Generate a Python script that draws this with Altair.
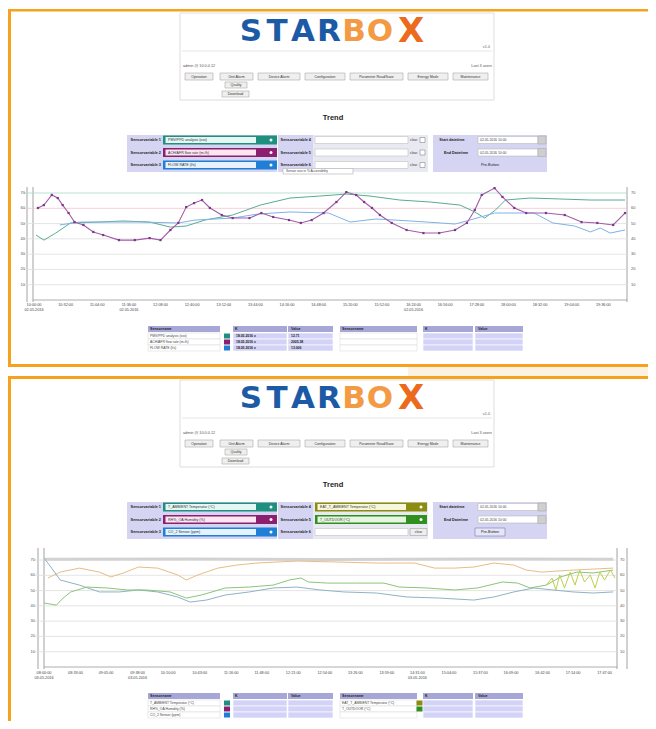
import altair as alt
import pandas as pd

OX, OY = 8, 8          # page margin
W, H = 640, 713        # drawable area

# ---------------- trend values ----------------
# time = minutes from the start of the trend window, value = sensor units
p1_purple_t = [4, 10, 18, 24, 29, 35, 41, 50, 60, 70, 86, 102, 117, 128, 138, 146, 154, 162, 170, 178,
               190, 201, 218, 230, 242, 258, 270, 281, 293, 306, 316, 326, 334, 342, 350, 362, 377, 394,
               410, 426, 438, 446, 453, 466, 474, 486, 498, 518, 537, 554, 570, 586, 598]
p1_purple_v = [60.2, 62.1, 68.7, 66.7, 62.1, 56.9, 51.0, 49.1, 44.5, 42.5, 39.2, 39.2, 40.5, 39.2, 45.8,
               50.4, 60.8, 63.4, 65.4, 60.2, 55.6, 53.6, 53.6, 56.9, 54.3, 52.3, 50.4, 52.3, 56.9, 64.1,
               70.6, 68.7, 64.1, 60.2, 55.6, 50.4, 45.8, 43.8, 43.8, 45.8, 50.4, 58.9, 68.7, 73.2, 67.4,
               60.2, 56.9, 56.9, 55.6, 51.0, 50.4, 49.1, 56.9]
p1_teal_t = [2, 10, 22, 37, 66, 90, 117, 138, 154, 173, 201, 229, 259, 289, 316, 340, 370, 401, 431, 446,
             456, 467, 477, 502, 532, 563, 598]
p1_teal_v = [42.5, 39.2, 43.8, 50.4, 51.0, 51.7, 51.0, 47.7, 48.4, 52.3, 55.6, 62.1, 66.7, 68.0, 69.3,
             68.0, 65.4, 64.1, 62.1, 57.6, 53.6, 58.9, 65.4, 66.7, 66.1, 65.4, 65.4]
p1_blue_t = [26, 47, 74, 107, 146, 163, 201, 226, 259, 298, 320, 346, 381, 411, 426, 441, 466, 506, 525,
             547, 563, 573, 583, 598]
p1_blue_v = [49.1, 51.0, 51.0, 51.0, 50.4, 52.3, 53.6, 56.2, 57.6, 56.9, 51.0, 53.0, 51.7, 50.4, 49.7,
             52.3, 56.9, 56.9, 50.4, 48.4, 44.5, 47.1, 43.8, 45.8]

p2_band_t = [0, 150, 300, 450, 596]
p2_band_v = [70.5, 70.6, 70.4, 70.6, 70.5]
p2_tan_t = [4, 17, 37, 58, 70, 83, 99, 119, 140, 149, 161, 182, 202, 223, 244, 265, 306, 348, 388, 409,
            430, 450, 471, 492, 505, 521, 554, 596]
p2_tan_v = [58.2, 62.1, 64.7, 62.1, 58.9, 61.5, 65.4, 64.7, 60.2, 56.9, 60.2, 64.7, 66.7, 68.0, 68.7,
            69.3, 68.7, 68.0, 68.0, 64.7, 64.7, 65.4, 68.0, 66.7, 63.4, 62.1, 63.4, 64.7]
p2_green_t = [0, 13, 20, 28, 45, 66, 87, 107, 132, 149, 165, 190, 215, 240, 257, 269, 277, 297, 327, 356,
              372, 401, 430, 454, 480, 496, 509, 526, 541, 558, 575, 596]
p2_green_v = [41.9, 40.5, 45.1, 49.1, 52.3, 51.7, 50.4, 50.4, 49.1, 45.1, 47.1, 51.7, 52.3, 53.6, 56.9,
              58.2, 55.6, 54.9, 54.9, 54.9, 52.3, 51.7, 50.4, 51.7, 55.6, 54.9, 51.7, 53.6, 58.9, 62.1,
              61.5, 63.4]
p2_blue_t = [0, 8, 17, 37, 58, 79, 99, 119, 140, 153, 170, 190, 215, 240, 265, 289, 314, 348, 380, 414,
             450, 471, 492, 513, 533, 554, 575, 596]
p2_blue_v = [71.3, 64.7, 56.9, 53.6, 49.1, 49.1, 50.4, 49.1, 45.8, 42.5, 43.8, 47.1, 49.1, 51.7, 52.3,
             50.4, 49.1, 48.4, 45.8, 45.1, 43.8, 45.8, 49.1, 51.7, 50.4, 49.1, 48.4, 49.1]
p2_olive_t = [526, 532, 536, 540, 545, 551, 556, 561, 566, 572, 577, 582, 587, 593, 598]
p2_olive_v = [53.6, 58.2, 50.4, 60.2, 51.7, 62.1, 53.6, 63.4, 55.6, 60.2, 51.7, 62.1, 56.9, 63.4, 58.2]

Y_TICKS = [10, 20, 30, 40, 50, 60, 70]
Y_LABELS = ["10", "20", "30", "40", "50", "60", "70"]
TICKS1 = [0, 32, 64, 96, 128, 160, 192, 224, 256, 288, 320, 352, 384, 416, 448, 480, 512, 544, 576]
TICK_LABELS1 = ["10:00:00", "10:32:00", "11:04:00", "11:36:00", "12:08:00", "12:40:00", "13:12:00",
                "13:44:00", "14:16:00", "14:48:00", "15:20:00", "15:52:00", "16:24:00", "16:56:00",
                "17:28:00", "18:00:00", "18:32:00", "19:04:00", "19:36:00"]
TICK_DATES1 = ["02.05.2016", "", "", "02.05.2016", "", "", "", "", "", "", "", "", "02.05.2016",
               "", "", "", "", "", ""]
TICKS2 = [0, 33, 65, 98, 130, 163, 196, 228, 261, 294, 326, 359, 391, 424, 457, 489, 522, 554, 587]
TICK_LABELS2 = ["08:00:00", "08:33:00", "09:05:00", "09:38:00", "10:10:00", "10:43:00", "11:16:00",
                "11:48:00", "12:21:00", "12:54:00", "13:26:00", "13:59:00", "14:31:00", "15:04:00",
                "15:37:00", "16:09:00", "16:42:00", "17:14:00", "17:47:00"]
TICK_DATES2 = ["03.05.2016", "", "", "03.05.2016", "", "", "", "", "", "", "", "", "03.05.2016",
               "", "", "", "", "", ""]

# ---------------- UI texts ----------------
LOGO = ["S", "T", "A", "R", "B", "O", "X"]
MENU = ["Operation", "Unit Alarm", "Device Alarm", "Configuration", "Parameter Read/Save",
        "Energy Mode", "Maintenance"]
SUBMENU = ["Quality", "Download"]
P1_NAMES = ["PMV/PPD analysis (xxx)", "ACH/AFR flow rate (m³/h)", "FLOW RATE (l/s)"]
P1_K = ["18.05.2016 x", "18.05.2016 x", "18.05.2016 x"]
P1_VAL = ["12.71", "2005.38", "13.006"]
P2_NAMES_L = ["T_AMBIENT Temperatur (°C)", "RH%_OA Humidity (%)", "CO_2 Sensor (ppm)"]
P2_NAMES_R = ["EAT_T_AMBIENT Temperatur (°C)", "T_OUTDOOR (°C)"]
TEAL, PURPLE, BLUE, OLIVE, GREEN = "#1f8f7f", "#8c1f70", "#1f7fd6", "#8c8c10", "#2f8f1f"
ORANGE = "#f5a21f"
LAV, LAV_D, LAV_L = "#d5d5f3", "#a7a7d7", "#d3d3f7"

# ---------------- layout helpers (pixel positions of the page) ----------------
rects, rules, texts, dots = [], [], [], []


def R(x, y, x2, y2, fill, stroke="#ffffff", sw=0.0):
    rects.append(dict(x=x, y=y, x2=x2, y2=y2, fill=fill, stroke=stroke, sw=sw))


def L(x, y, x2, y2, color, sw=0.8):
    rules.append(dict(x=x, y=y, x2=x2, y2=y2, color=color, sw=sw))


def T(x, y, text, size, color="#333333", weight="normal", align="left",
      font="Liberation Sans", baseline="middle"):
    texts.append(dict(x=x, y=y, text=text, size=size, color=color, weight=weight,
                      align=align, font=font, baseline=baseline))


def D(x, y, size, color="#ffffff"):
    dots.append(dict(x=x, y=y, size=size, color=color))


MENU_X = [(185, 213), (220, 253), (258, 300), (305, 345), (350, 403), (408, 448), (453, 488)]
SUB_BOX = [(225, 247, 82, 88), (222, 249, 91, 97)]
ROWS = [140, 152.5, 165]
LOGO_X = [251, 277, 303, 329, 354, 380, 411]
LOGO_SIZE = [31, 31, 31, 31, 31, 31, 34]
LOGO_COL = ["#1d5aa6", "#1d5aa6", "#1d5aa6", "#1d5aa6", "#f39a45", "#f39a45", "#ec6a1c"]


def colored_input(x1, xb, x2, y, color, tint, text):
    R(x1, y - 4.5, x2, y + 4.5, color)
    R(x1 + 2.5, y - 3, xb, y + 3, tint)
    D(x2 - 6, y, 9)
    T(x1 + 5, y, text, 3.6, "#333333")


def panel(dy, variant):
    # header box with logo and menu
    R(180, 13 + dy, 494, 100 + dy, "#ffffff", "#d4d4d4", 0.8)
    L(182, 51 + dy, 492, 51 + dy, "#e0e0e0")
    for ch, lx, ls, lc in zip(LOGO, LOGO_X, LOGO_SIZE, LOGO_COL):
        T(lx, 41 + dy + (1 if ch == "X" else 0), ch, ls, lc, "bold", "center", "DejaVu Sans",
          "alphabetic")
    T(490, 47 + dy, "v1.0", 3.8, "#666666", align="right")
    T(183, 66 + dy, "admin @ 10.0.0.12", 3.8, "#555555")
    T(492, 66 + dy, "Last 3 users", 3.8, "#555555", align="right")
    for (a, b), lab in zip(MENU_X, MENU):
        R(a, 73 + dy, b, 80 + dy, "#efefef", "#a9a9a9", 0.6)
        T((a + b) / 2, 76.5 + dy, lab, 3.5, "#333333", align="center")
    for (a, b, y1, y2), lab in zip(SUB_BOX, SUBMENU):
        R(a, y1 + dy, b, y2 + dy, "#efefef", "#a9a9a9", 0.6)
        T((a + b) / 2, (y1 + y2) / 2 + dy, lab, 3.5, "#333333", align="center")
    T(333, 118 + dy, "Trend", 7.5, "#222222", "bold", "center")

    # left group: sensor variables 1-3
    R(127, 135 + dy, 277, 172 + dy, LAV)
    names = P1_NAMES if variant == 1 else P2_NAMES_L
    for i, (y, c, tint) in enumerate(zip(ROWS, [TEAL, PURPLE, BLUE],
                                          ["#e6f7f3", "#fbe6f2", "#e6f2fd"])):
        T(161, y + dy, f"Sensorvariable {i + 1}", 3.8, "#222222", "bold", "right")
        colored_input(163, 256, 277, y + dy, c, tint, names[i])

    # middle group: sensor variables 4-6
    R(278, 135 + dy, 428, 172 + dy, "#e9e9f1")
    R(278, 135 + dy, 313, 172 + dy, LAV)
    for i, y in enumerate(ROWS):
        T(311, y + dy, f"Sensorvariable {i + 4}", 3.8, "#222222", "bold", "right")
        if variant == 2 and i < 2:
            colored_input(315, 406, 427, y + dy, [OLIVE, GREEN][i], ["#f6f6dc", "#e6f6e0"][i],
                          P2_NAMES_R[i])
        else:
            R(315, y - 3.5 + dy, 408, y + 3.5 + dy, "#ffffff", "#c0c0c0", 0.6)
            if variant == 2:
                R(410, y - 3.5 + dy, 427, y + 3.5 + dy, "#eeeeee", "#a0a0a0", 0.6)
                T(418.5, y + dy, "clear", 3.4, "#333333", align="center")
            else:
                T(410, y + dy, "clear", 3.4, "#333333")
                R(420, y - 2.5 + dy, 425, y + 2.5 + dy, "#ffffff", "#888888", 0.6)
    if variant == 1:
        R(283, 168.5 + dy, 353, 174 + dy, "#ffffff", "#b0b0b0", 0.6)
        T(286, 171.2 + dy, "Sensor size in %   Accessibility", 3.2, "#444444")

    # right group: time window
    R(433, 135 + dy, 547, 172 + dy, LAV)
    T(452, ROWS[0] + dy, "Start datetime", 3.8, "#222222", "bold", "center")
    T(456, ROWS[1] + dy, "End Datetime", 3.8, "#222222", "bold", "center")
    for y in ROWS[:2]:
        R(478, y - 3.5 + dy, 538, y + 3.5 + dy, "#ffffff", "#b8b8b8", 0.6)
        R(538, y - 4 + dy, 546, y + 4 + dy, "#cfcfcf", "#aaaaaa", 0.6)
        T(480, y + dy, "02.05.2016 10:00", 3.4, "#444444")
    if variant == 2:
        R(475, ROWS[2] - 4 + dy, 505, ROWS[2] + 4 + dy, "#e6e6f6", "#8888bb", 0.7)
    T(490, ROWS[2] + dy, "Pre-Button", 3.8, "#222222", align="center")

    # legend tables under the trend
    hy1, hy2 = 326 + dy, 332 + dy
    rows_y = [336, 342, 348]
    for (n1, n2), (c1, c2), (k1, k2), (v1, v2) in [
            ((148, 220), (221, 232), (233, 287), (288, 333)),
            ((340, 417), (418, 422), (423, 473), (475, 523))]:
        R(n1, hy1, n2, hy2, LAV_D)
        R(k1, hy1, k2, hy2, LAV_D)
        R(v1, hy1, v2, hy2, LAV_D)
        T(n1 + 2, (hy1 + hy2) / 2, "Sensorname", 3.6, "#222222", "bold")
        T(k1 + 2, (hy1 + hy2) / 2, "K", 3.6, "#222222", "bold")
        T(v1 + 3, (hy1 + hy2) / 2, "Value", 3.6, "#222222", "bold")
        for y in rows_y:
            R(n1, y - 3 + dy, n2, y + 3 + dy, "#ffffff", "#d6d6d6", 0.5)
            R(k1, y - 3 + dy, k2, y + 3 + dy, LAV_L, "#ffffff", 0.6)
            R(v1, y - 3 + dy, v2, y + 3 + dy, LAV_L, "#ffffff", 0.6)
    left_cols = [TEAL, PURPLE, BLUE]
    left_names = P1_NAMES if variant == 1 else P2_NAMES_L
    for i, y in enumerate(rows_y):
        R(224, y - 2.5 + dy, 230, y + 2.5 + dy, left_cols[i])
        T(150, y + dy, left_names[i], 3.4, "#444444")
        if variant == 1:
            T(236, y + dy, P1_K[i], 3.4, "#222222", "bold")
            T(291, y + dy, P1_VAL[i], 3.4, "#222222", "bold")
    if variant == 2:
        for i, y in enumerate(rows_y[:2]):
            R(416.5, y - 2.5 + dy, 422.5, y + 2.5 + dy, [OLIVE, GREEN][i])
            T(342, y + dy, P2_NAMES_R[i], 3.4, "#444444")


# page frames (orange borders of the two screenshots)
R(8, 9, 656, 11.5, ORANGE)
R(8, 9, 11, 367, ORANGE)
R(8, 364, 656, 367, ORANGE)
R(408, 367, 656, 376, "#fdf2e2")
R(8, 376, 656, 379, ORANGE)
R(8, 376, 11, 729, ORANGE)

panel(0, 1)
panel(367, 2)

# trend frames
for x in (27, 33):
    L(x, 187, x, 302, "#8a8a8a")
L(627, 187, 627, 302, "#8a8a8a")
L(33, 300, 627, 300, "#9a9a9a")
for x in (38, 44, 617, 627):
    L(x, 548, x, 669, "#8a8a8a")
L(44, 667, 617, 667, "#9a9a9a")

SX = alt.Scale(domain=[OX, OX + W], range=[0, W], nice=False, zero=False)
SY = alt.Scale(domain=[OY, OY + H], range=[0, H], nice=False, zero=False)


def px(f):
    return alt.X(f, scale=SX, axis=None)


def py(f):
    return alt.Y(f, scale=SY, axis=None)


bg_layers = [
    alt.Chart(pd.DataFrame(rects)).mark_rect().encode(
        x=px("x:Q"), x2="x2:Q", y=py("y:Q"), y2="y2:Q",
        color=alt.Color("fill:N", scale=None),
        stroke=alt.Stroke("stroke:N", scale=None),
        strokeWidth=alt.StrokeWidth("sw:Q", scale=None)),
    alt.Chart(pd.DataFrame(rules)).mark_rule().encode(
        x=px("x:Q"), x2="x2:Q", y=py("y:Q"), y2="y2:Q",
        color=alt.Color("color:N", scale=None),
        strokeWidth=alt.StrokeWidth("sw:Q", scale=None)),
    alt.Chart(pd.DataFrame(dots)).mark_circle(opacity=1).encode(
        x=px("x:Q"), y=py("y:Q"),
        size=alt.Size("size:Q", scale=None),
        color=alt.Color("color:N", scale=None)),
]
tdf = pd.DataFrame(texts)
for (wt, al, fo, bl), g in tdf.groupby(["weight", "align", "font", "baseline"]):
    bg_layers.append(
        alt.Chart(g).mark_text(fontWeight=wt, align=al, font=fo, baseline=bl).encode(
            x=px("x:Q"), y=py("y:Q"), text="text:N",
            size=alt.Size("size:Q", scale=None),
            color=alt.Color("color:N", scale=None)))
bg = alt.layer(*bg_layers)


def trend(x0, x1, yb, yt, gx0, lab_l, lab_r, lab_y, series, ticks, tick_labels, tick_dates,
          grid_colors):
    sx = alt.Scale(domain=[0, 600], range=[x0 - OX, x1 - OX], nice=False, zero=False)
    sy = alt.Scale(domain=[0, 70], range=[yb - OY, yt - OY], nice=False, zero=False)
    layers = []
    g = pd.DataFrame({"v": Y_TICKS, "c": grid_colors, "lab": Y_LABELS})
    layers.append(alt.Chart(g).mark_rule(strokeWidth=0.8).encode(
        y=alt.Y("v:Q", scale=sy, axis=None), x=alt.value(gx0 - OX), x2=alt.value(x1 - OX),
        color=alt.Color("c:N", scale=None)))
    layers.append(alt.Chart(g).mark_text(align="right", fontSize=4, color="#555555").encode(
        y=alt.Y("v:Q", scale=sy, axis=None), x=alt.value(lab_l - OX), text="lab:N"))
    layers.append(alt.Chart(g).mark_text(align="left", fontSize=4, color="#555555").encode(
        y=alt.Y("v:Q", scale=sy, axis=None), x=alt.value(lab_r - OX), text="lab:N"))
    for t, v, col, w, pts in series:
        d = pd.DataFrame({"t": t, "v": v})
        kw = dict(color=col, strokeWidth=w, interpolate="linear")
        if pts:
            kw["point"] = alt.OverlayMarkDef(filled=True, size=5, shape="square", color=pts)
        layers.append(alt.Chart(d).mark_line(**kw).encode(
            x=alt.X("t:Q", scale=sx, axis=None), y=alt.Y("v:Q", scale=sy, axis=None)))
    tk = pd.DataFrame({"t": ticks, "lab": tick_labels, "date": tick_dates})
    layers.append(alt.Chart(tk).mark_text(fontSize=3.8, color="#444444").encode(
        x=alt.X("t:Q", scale=sx, axis=None), y=alt.value(lab_y - OY), text="lab:N"))
    layers.append(alt.Chart(tk).mark_text(fontSize=3.8, color="#444444").encode(
        x=alt.X("t:Q", scale=sx, axis=None), y=alt.value(lab_y + 5 - OY), text="date:N"))
    return alt.layer(*layers)


c1 = trend(34, 627, 300, 193, 24, 25, 631, 305,
           [(p1_teal_t, p1_teal_v, "#5aab95", 1.0, None),
            (p1_blue_t, p1_blue_v, "#7fb2e6", 1.0, None),
            (p1_purple_t, p1_purple_v, "#a45aa8", 1.1, "#7a3a8a")],
           TICKS1, TICK_LABELS1, TICK_DATES1,
           ["#dddddd", "#dddddd", "#dddddd", "#dddddd", "#dddddd", "#f2c4cc", "#a9d9c4"])

c2 = trend(44, 617, 667, 560, 35, 35, 620, 673,
           [(p2_band_t, p2_band_v, "#d2d2d2", 3.0, None),
            (p2_tan_t, p2_tan_v, "#e7bd85", 1.0, None),
            (p2_blue_t, p2_blue_v, "#8fb3c4", 1.0, None),
            (p2_green_t, p2_green_v, "#8cc47a", 1.0, None),
            (p2_olive_t, p2_olive_v, "#bfcf4e", 1.0, None)],
           TICKS2, TICK_LABELS2, TICK_DATES2,
           ["#dddddd"] * 7)

chart = alt.layer(bg, c1, c2).resolve_scale(x="independent", y="independent").properties(
    width=W, height=H, padding=0, autosize=alt.AutoSizeParams(type="none")
).configure_view(strokeWidth=0)

chart.save("out.html", embed_options={"renderer": "svg", "actions": False})
